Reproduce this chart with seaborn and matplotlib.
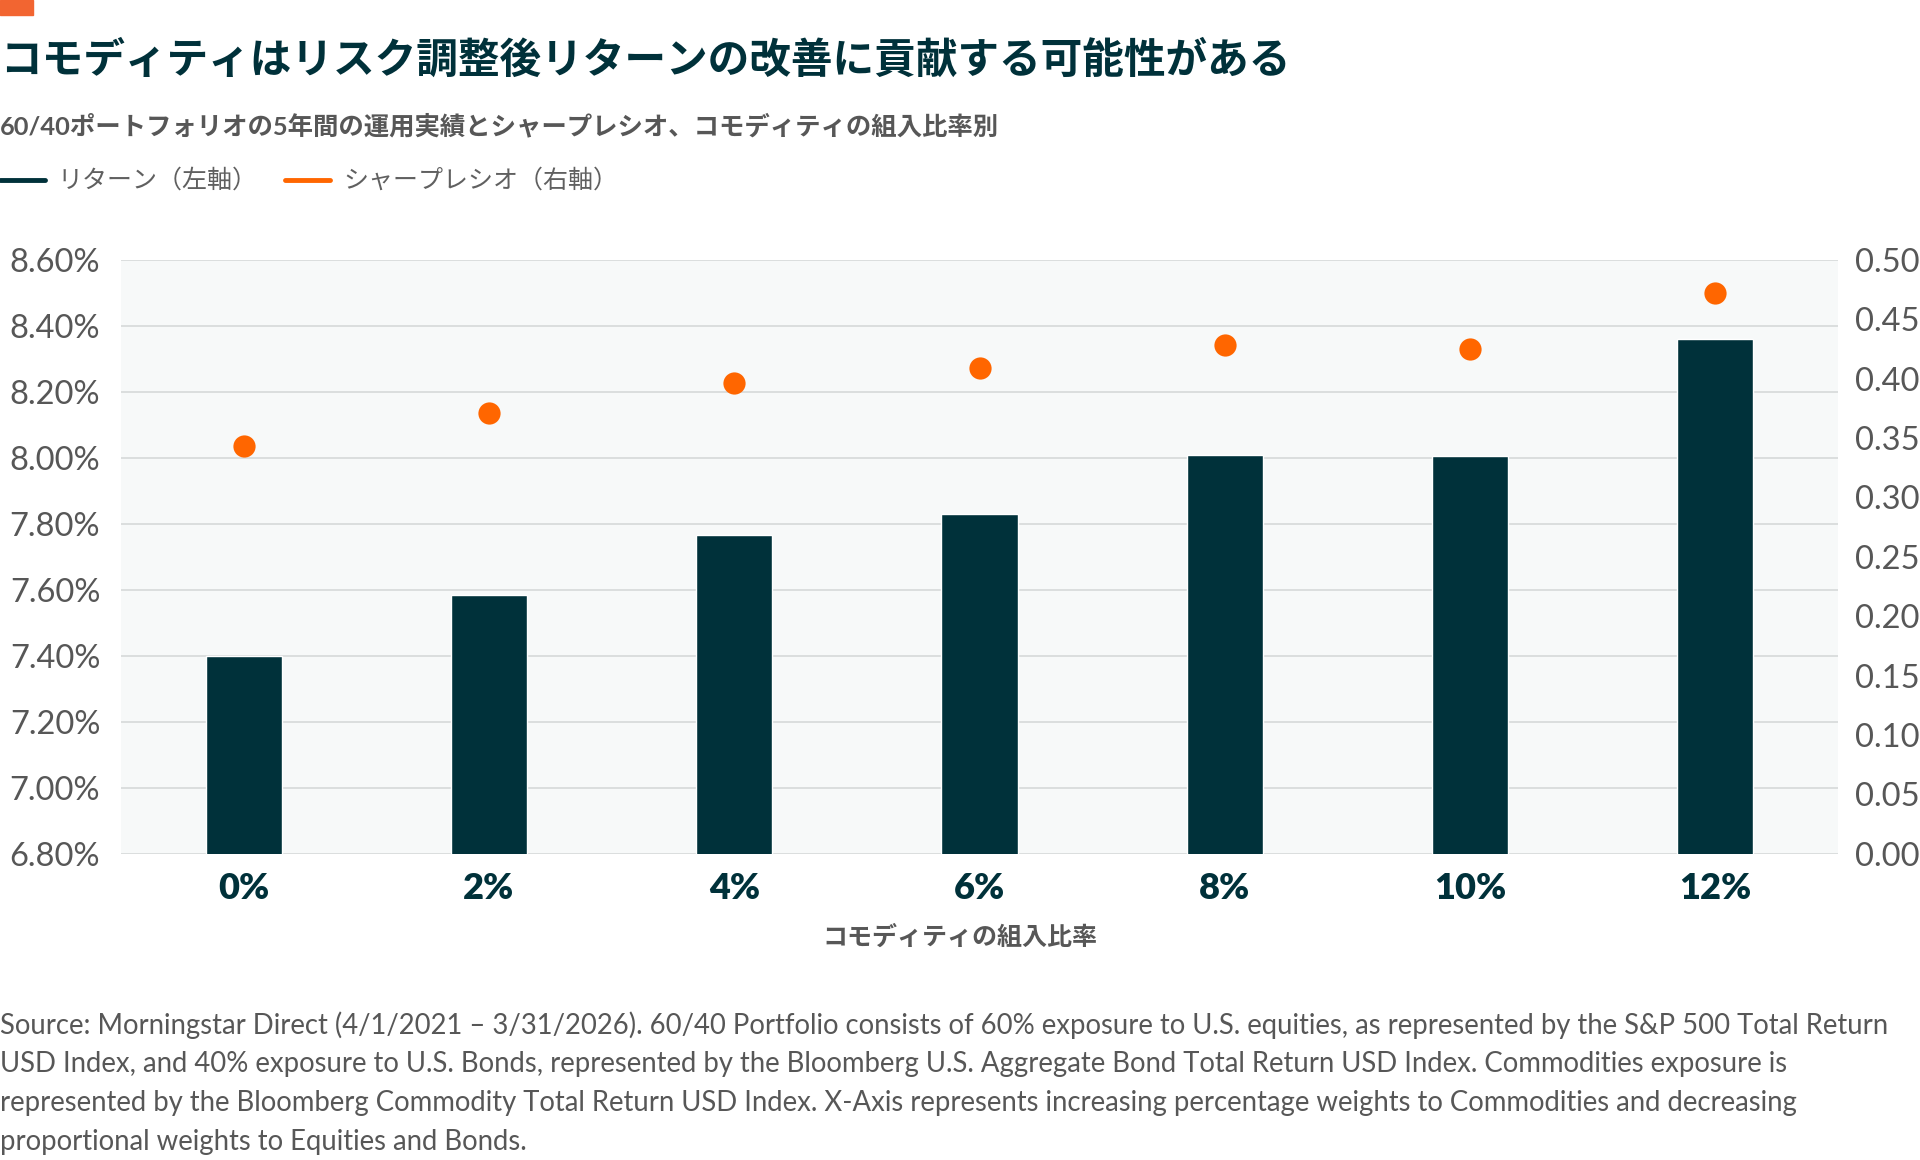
import matplotlib
matplotlib.use("Agg")
import matplotlib.pyplot as plt
from matplotlib.lines import Line2D
from matplotlib.patches import Rectangle
from matplotlib.ticker import FixedLocator, FuncFormatter
import pandas as pd
import seaborn as sns

# Data
weights = ["0%", "2%", "4%", "6%", "8%", "10%", "12%"]
returns = [7.40, 7.585, 7.766, 7.829, 8.008, 8.006, 8.36]   # % (left axis)
sharpe = [0.343, 0.371, 0.396, 0.409, 0.428, 0.425, 0.472]  # right axis
left_ticks = [6.80, 7.00, 7.20, 7.40, 7.60, 7.80, 8.00, 8.20, 8.40, 8.60]
right_ticks = [0.00, 0.05, 0.10, 0.15, 0.20, 0.25, 0.30, 0.35, 0.40, 0.45, 0.50]

title = "コモディティはリスク調整後リターンの改善に貢献する可能性がある"
subtitle = "60/40ポートフォリオの5年間の運用実績とシャープレシオ、コモディティの組入比率別"
legend_labels = ["リターン（左軸）", "シャープレシオ（右軸）"]
xlabel = "コモディティの組入比率"
source_lines = [
    "Source: Morningstar Direct (4/1/2021 – 3/31/2026). 60/40 Portfolio consists of 60% exposure to U.S. equities, as represented by the S&P 500 Total Return",
    "USD Index, and 40% exposure to U.S. Bonds, represented by the Bloomberg U.S. Aggregate Bond Total Return USD Index. Commodities exposure is",
    "represented by the Bloomberg Commodity Total Return USD Index. X-Axis represents increasing percentage weights to Commodities and decreasing",
    "proportional weights to Equities and Bonds.",
]

TEAL = "#00313A"
ORANGE = "#FF6600"
GRAY = "#575757"
W, H = 1920, 1160

sns.set_theme(style="white")
plt.rcParams["font.family"] = ["Lato", "Noto Sans CJK JP", "DejaVu Sans"]

df = pd.DataFrame({"weight": weights, "ret": returns, "sharpe": sharpe})

fig = plt.figure(figsize=(W / 100, H / 100), dpi=100)
ax = fig.add_axes([121 / W, 1 - 853.6 / H, (1838 - 121) / W, (853.6 - 260) / H])
ax.set_facecolor("#F7F9F9")

sns.barplot(data=df, x="weight", y="ret", color=TEAL, width=0.31,
            saturation=1, errorbar=None, ax=ax, zorder=3)
ax.set_ylim(6.8, 8.6)
ax.yaxis.set_major_locator(FixedLocator(left_ticks))
ax.yaxis.set_major_formatter(FuncFormatter(lambda v, p: f"{v:.2f}%"))
ax.yaxis.grid(True, color="#D9DCDC", lw=1.3)
ax.set_axisbelow(True)

ax2 = ax.twinx()
sns.pointplot(data=df, x="weight", y="sharpe", color=ORANGE, errorbar=None,
              linestyle="none", markers="o", markersize=16, markeredgewidth=0,
              ax=ax2)
ax2.set_ylim(0, 0.5)
ax2.yaxis.set_major_locator(FixedLocator(right_ticks))
ax2.yaxis.set_major_formatter(FuncFormatter(lambda v, p: f"{v:.2f}"))
ax.set_xlim(-0.5, len(weights) - 0.5)

for a in (ax, ax2):
    for s in a.spines.values():
        s.set_visible(False)
    a.set_xlabel("")
    a.set_ylabel("")

ax.tick_params(axis="y", length=0, pad=15, labelsize=23.5, labelcolor=GRAY)
ax2.tick_params(axis="y", length=0, pad=12, labelsize=23.5, labelcolor=GRAY)
ax.tick_params(axis="x", length=0, pad=13, labelsize=26, labelcolor=TEAL)
for lbl in ax.get_xticklabels():
    lbl.set_fontweight("heavy")

# header
fig.add_artist(Rectangle((0, 1 - 15 / H), 33 / W, 15 / H, color="#F26531",
                         transform=fig.transFigure))
fig.text(0, 1 - 60 / H, title, fontsize=30, fontweight="bold", color=TEAL,
         va="center", ha="left")
fig.text(0, 1 - 126 / H, subtitle, fontsize=18.3, fontweight="bold", color=GRAY,
         va="center", ha="left")

# legend
ly = 1 - 180 / H
fig.add_artist(Line2D([0, 45 / W], [ly, ly], color=TEAL, lw=3.5,
                      transform=fig.transFigure))
fig.text(57 / W, ly, legend_labels[0], fontsize=18, color="#606060", va="center")
fig.add_artist(Line2D([285 / W, 330 / W], [ly, ly], color=ORANGE, lw=3.5,
                      transform=fig.transFigure))
fig.text(343 / W, ly, legend_labels[1], fontsize=18, color="#606060", va="center")

fig.text(0.5, 1 - 937 / H, xlabel, fontsize=18, fontweight="bold", color=GRAY,
         ha="center", va="center")

for i, line in enumerate(source_lines):
    fig.text(0, 1 - (1025 + 39 * i) / H, line, fontsize=19.8, color=GRAY,
             va="center", ha="left")

fig.savefig("out.png", dpi=100)
